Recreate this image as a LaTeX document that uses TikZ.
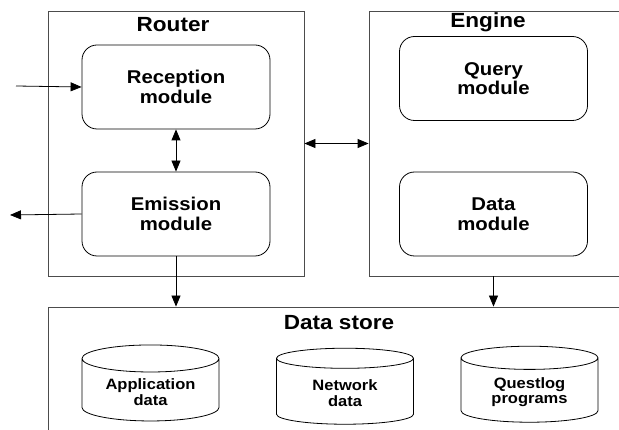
\documentclass[tikz,border=0pt]{standalone}
\usepackage{fontspec}
\setmainfont[FakeStretch=1.1]{Liberation Sans}
\usetikzlibrary{arrows.meta,shapes.geometric}

\begin{document}
\begin{tikzpicture}[x=1pt,y=-1pt,>={Triangle[length=11pt,width=9pt]},
      line width=0.8pt,
      box node/.style={rectangle,draw=black!70,minimum height=265pt},
      title node/.style={font=\fontsize{20.5}{22}\selectfont\bfseries},
      module node/.style={rectangle,rounded corners=15pt,draw,minimum width=188pt,
        minimum height=84pt,align=center,font=\fontsize{18.5}{19.5}\selectfont\bfseries},
      db node/.style={cylinder,shape border rotate=90,draw,aspect=0.28,minimum width=137pt,
        minimum height=76pt,align=center,font=\fontsize{15}{15.5}\selectfont\bfseries}]

      \clip (0,0) rectangle (619,430);

      % outer boxes
      \node[box node,minimum width=256pt] (router) at (176,143.5) {};
      \node[box node,minimum width=290pt] (engine) at (514,143.5) {};
      \node[rectangle,draw=black!70,minimum width=600pt,minimum height=150pt] (store) at (348,382) {};

      \node[title node] (router title) at (173,25) {Router};
      \node[title node] (engine title) at (488,22) {Engine};
      \node[title node] (store title) at (339,323) {Data store};

      % modules
      \node[module node] (rec) at (176,87) {Reception\\module};
      \node[module node] (emi) at (176,214) {Emission\\module};
      \node[module node] (qry) at (493.5,78.5) {Query\\module};
      \node[module node] (dat) at (493.5,214) {Data\\module};

      % databases
      \node[db node] (app) at (150.5,392) {Application\\data};
      \node[db node] (net) at (345,393) {Network\\data};
      \node[db node] (qlog) at (529.5,392) {Questlog\\programs};

      \coordinate (in) at (16,86);
      \coordinate (out) at (10,215);

      \draw[->] (in) -- (rec.west);
      \draw[->] (emi.west) -- (out);
      \draw[<->] (rec) -- (emi);
      \draw[<->] (router.east) -- (engine.west);
      \draw[->] (emi) -- (emi |- store.north);
      \draw[->] (dat |- engine.south) -- (dat |- store.north);
    \end{tikzpicture}
\end{document}
